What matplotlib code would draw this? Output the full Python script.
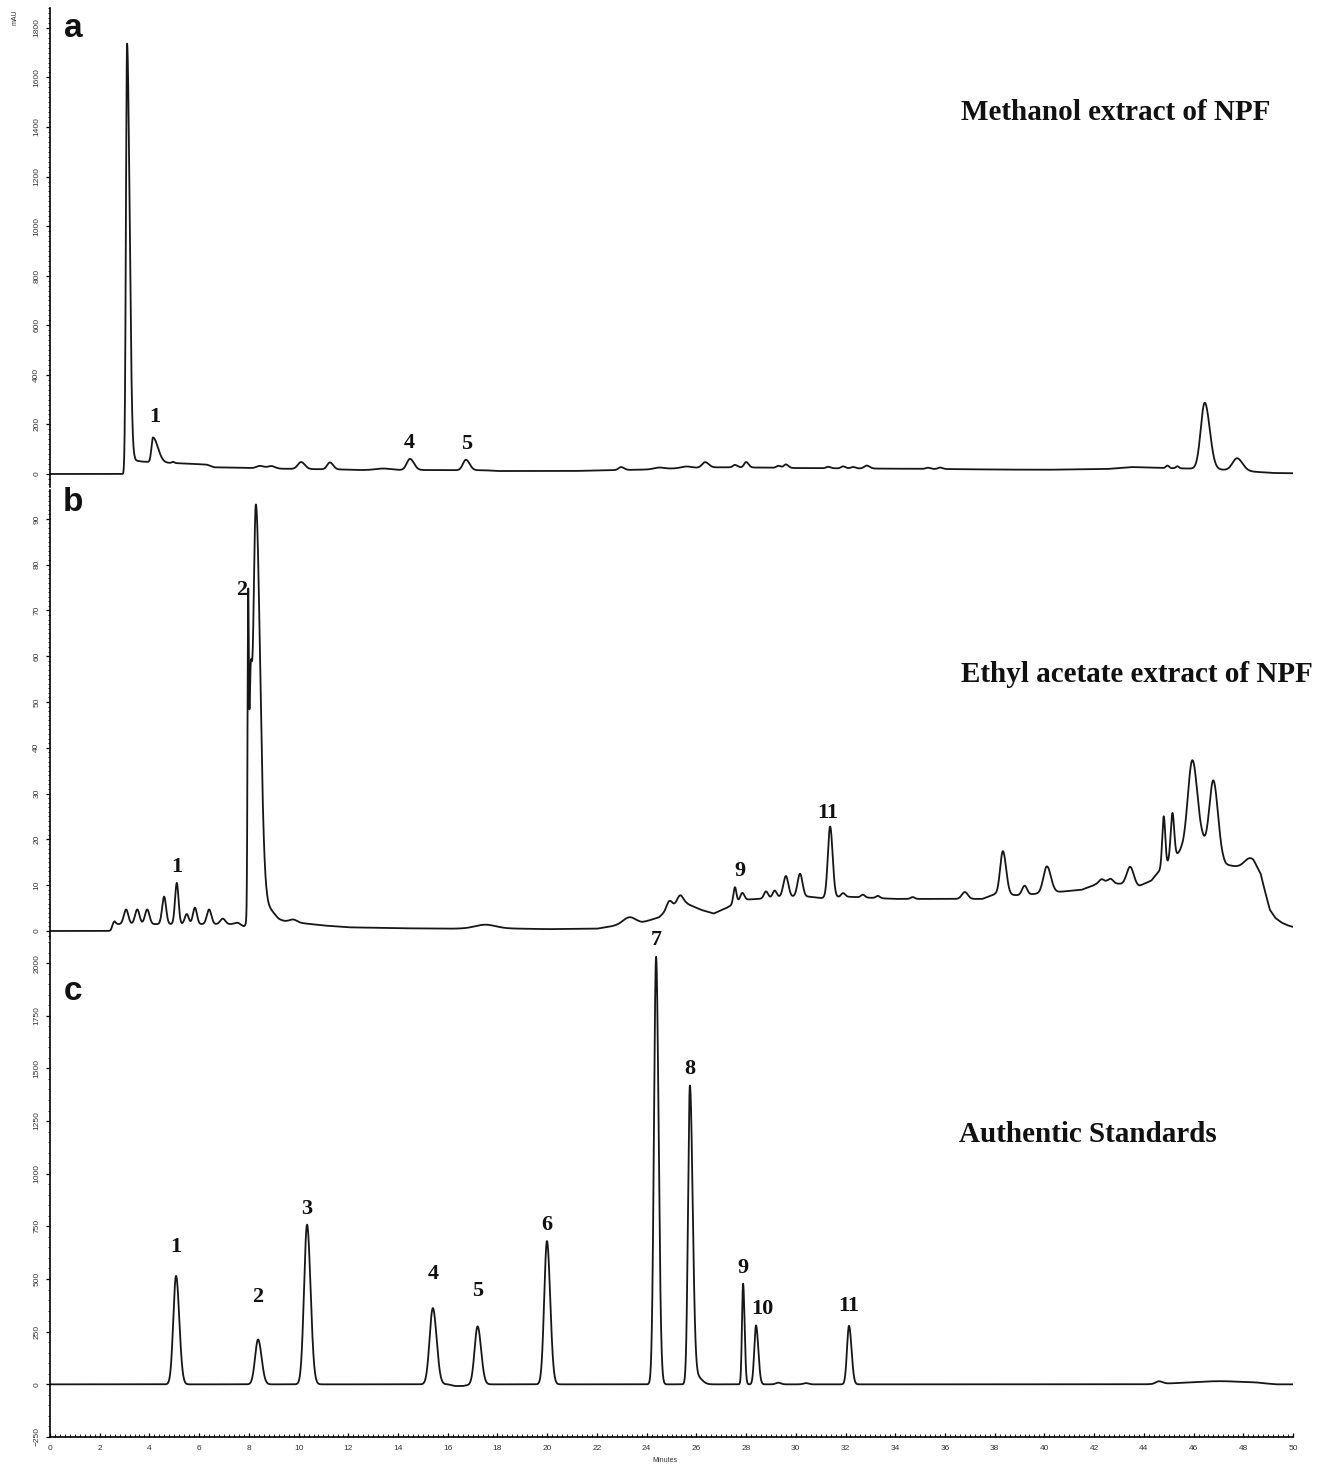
import numpy as np
import matplotlib
matplotlib.use("Agg")
import matplotlib.pyplot as plt
from matplotlib.ticker import MultipleLocator

# ---------------- data ----------------
# Panel a: Methanol extract of NPF  (mAU)
a_base_t = [0, 2.95, 3.0, 3.4, 3.7, 4.4, 5.0, 5.5, 6.3, 6.6, 7.6, 8.2, 9.5, 11.8, 12.5, 15, 17.5, 18,
            21, 24, 25.5, 27, 28.5, 30, 33, 36, 38, 40, 42.5, 43.5, 44.5, 45.8, 47.2, 48.3, 49.2, 50]
a_base_v = [0, 0, 10, 55, 50, 46, 44, 42, 38, 27, 25, 23, 21, 18, 16, 16, 15, 12,
            12, 18, 24, 27, 26, 24, 22, 20, 18, 17, 20, 28, 25, 22, 17, 10, 4, 3]
a_pk_t = [3.1, 4.14, 4.95, 8.45, 8.9, 10.1, 11.26, 13.4, 14.48, 16.73, 22.97, 24.5, 25.6, 26.35,
          27.55, 28.0, 29.3, 29.6, 31.3, 31.9, 32.3, 32.85, 35.3, 35.8, 44.95, 45.35, 46.45, 47.75]
a_pk_h = [1715, 100, 5, 10, 10, 28, 28, 6, 45, 42, 12, 6, 6, 22,
          10, 22, 8, 14, 6, 8, 6, 12, 5, 6, 10, 8, 268, 50]
a_pk_sl = [0.045, 0.06, 0.05, 0.15, 0.15, 0.13, 0.11, 0.3, 0.13, 0.12, 0.1, 0.2, 0.2, 0.12,
           0.08, 0.08, 0.08, 0.08, 0.08, 0.08, 0.08, 0.1, 0.08, 0.08, 0.06, 0.06, 0.16, 0.18]
a_pk_sr = [0.1, 0.2, 0.05, 0.15, 0.15, 0.15, 0.13, 0.3, 0.16, 0.15, 0.12, 0.2, 0.2, 0.15,
           0.1, 0.1, 0.1, 0.1, 0.1, 0.1, 0.1, 0.12, 0.1, 0.1, 0.06, 0.06, 0.2, 0.22]
a_lab = ["1", "4", "5"]
a_lab_t = [4.2, 14.45, 16.75]
a_lab_v = [230, 125, 121]

# Panel b: Ethyl acetate extract of NPF  (mAU)
b_base_t = [0, 2.45, 2.6, 7.6, 7.8, 8.7, 9.2, 10, 11, 12, 14, 16, 18, 20, 22, 22.8, 23.8,
            24.5, 25.0, 25.6, 26.2, 26.7, 27.2, 27.8, 28.5, 29.5, 30.5, 31, 32, 34, 36, 37.5,
            38.0, 39.0, 40.5, 41.5, 42, 43, 43.8, 44.3, 44.65, 45.5, 46.35, 47.3, 47.9, 48.4,
            48.7, 48.9, 49.07, 49.3, 49.55, 49.8, 50]
b_base_v = [0, 0, 1.5, 1.5, 1.0, 3.5, 2.2, 1.8, 1.2, 0.8, 0.6, 0.5, 0.6, 0.4, 0.5, 1.2, 1.8,
            3.0, 5.5, 6.0, 4.6, 3.8, 5.0, 6.8, 7.0, 7.5, 7.5, 7.2, 7.5, 7.0, 7.0, 7.0,
            8.0, 7.8, 8.5, 9.0, 10.0, 10.3, 9.8, 11.0, 13.3, 17.5, 19.0, 14.5, 13.8, 13.3,
            11.8, 8.0, 4.6, 2.8, 1.8, 1.2, 0.9]
b_pk_t = [2.55, 3.06, 3.51, 3.91, 4.59, 5.10, 5.50, 5.83, 6.40, 6.95, 7.51,
          7.97, 8.06, 8.28, 8.7, 9.78, 17.5, 23.3, 24.9, 25.35, 27.55, 27.85, 28.8, 29.15,
          29.6, 30.17, 31.38, 31.9, 32.7, 33.3, 34.7, 36.8, 38.33, 39.2, 40.1, 42.3, 42.65,
          43.45, 44.8, 45.15, 45.95, 46.8, 48.3]
b_pk_h = [0.8, 3.2, 3.2, 3.2, 6.0, 9.0, 2.2, 3.6, 3.2, 1.2, 0.3,
          57, 42, 90, 2.0, 0.6, 0.8, 1.5, 1.5, 2.0, 3.5, 1.5, 1.5, 1.5,
          4.5, 5.0, 15.5, 0.8, 0.6, 0.5, 0.4, 1.5, 9.5, 2.0, 5.8, 1.2, 1.2,
          4.0, 11, 10, 19, 16, 2.5]
b_pk_sl = [0.07, 0.09, 0.09, 0.09, 0.08, 0.07, 0.08, 0.08, 0.09, 0.1, 0.1,
           0.025, 0.06, 0.11, 0.3, 0.15, 0.4, 0.25, 0.1, 0.12, 0.06, 0.08, 0.08, 0.08,
           0.1, 0.1, 0.09, 0.08, 0.08, 0.08, 0.08, 0.12, 0.11, 0.1, 0.14, 0.12, 0.12,
           0.14, 0.06, 0.07, 0.18, 0.16, 0.25]
b_pk_sr = [0.07, 0.09, 0.09, 0.09, 0.08, 0.07, 0.08, 0.08, 0.09, 0.1, 0.1,
           0.025, 0.06, 0.17, 0.3, 0.15, 0.4, 0.25, 0.1, 0.12, 0.06, 0.08, 0.08, 0.08,
           0.1, 0.1, 0.1, 0.08, 0.08, 0.08, 0.08, 0.12, 0.13, 0.1, 0.16, 0.12, 0.12,
           0.14, 0.06, 0.07, 0.2, 0.18, 0.25]
b_lab = ["2", "1", "9", "11"]
b_lab_t = [7.72, 5.1, 27.75, 31.3]
b_lab_v = [74.5, 14.0, 13.0, 25.8]

# Panel c: Authentic Standards  (mAU)
c_base_t = [0, 16.0, 16.3, 16.6, 17.0, 44.0, 45.5, 48.5, 49.3, 50]
c_base_v = [0, 0, -8, -8, 0, 0, 6, 8, 0, 0]
c_pk_t = [5.07, 8.37, 10.34, 15.4, 17.2, 19.99, 24.38, 25.74, 26.0, 27.88, 28.4, 29.3, 30.4,
          32.14, 44.6, 47.0]
c_pk_h = [515, 213, 758, 362, 275, 680, 2030, 1410, 40, 478, 280, 8, 6, 278, 12, 8]
c_pk_sl = [0.11, 0.12, 0.12, 0.13, 0.12, 0.11, 0.085, 0.075, 0.15, 0.045, 0.07, 0.1, 0.1,
           0.08, 0.12, 0.8]
c_pk_sr = [0.13, 0.14, 0.14, 0.15, 0.14, 0.13, 0.1, 0.11, 0.2, 0.06, 0.09, 0.1, 0.1,
           0.1, 0.15, 0.8]
c_lab = ["1", "2", "3", "4", "5", "6", "7", "8", "9", "10", "11"]
c_lab_t = [5.07, 8.37, 10.34, 15.4, 17.2, 19.99, 24.38, 25.74, 27.88, 28.65, 32.14]
c_lab_v = [654, 417, 834, 526, 441, 758, 2109, 1498, 550, 360, 370]

titles = ["Methanol extract of NPF", "Ethyl acetate extract of NPF", "Authentic Standards"]
letters = ["a", "b", "c"]


def trace(t, bt, bv, pt, ph, psl, psr):
    y = np.interp(t, bt, bv)
    for c, h, sl, sr in zip(pt, ph, psl, psr):
        s = np.where(t < c, sl, sr)
        y = y + h * np.exp(-0.5 * ((t - c) / s) ** 2)
    return y


t = np.linspace(0, 50, 20001)

W, H = 1338, 1467
fig = plt.figure(figsize=(W / 100, H / 100), dpi=100)

def ax_rect(top, bottom, left=50, right=1293):
    return [left / W, 1 - bottom / H, (right - left) / W, (bottom - top) / H]

ax_a = fig.add_axes(ax_rect(8, 487))
ax_b = fig.add_axes(ax_rect(490, 940))
ax_c = fig.add_axes(ax_rect(942, 1437))
axes = [ax_a, ax_b, ax_c]

ya = trace(t, a_base_t, a_base_v, a_pk_t, a_pk_h, a_pk_sl, a_pk_sr)
yb = trace(t, b_base_t, b_base_v, b_pk_t, b_pk_h, b_pk_sl, b_pk_sr)
yc = trace(t, c_base_t, c_base_v, c_pk_t, c_pk_h, c_pk_sl, c_pk_sr)

ylims = [(-52.5, 1880), (-1.97, 96.3), (-250, 2100)]
majors = [200, 10, 250]
minors = [20, 1, 50]
data = [ya, yb, yc]
labs = [(a_lab, a_lab_t, a_lab_v), (b_lab, b_lab_t, b_lab_v), (c_lab, c_lab_t, c_lab_v)]
title_pos = [(0.857, 0.781), (0.8745, 0.591), (0.835, 0.612)]
letter_pos = [(0.0185, 0.958), (0.0185, 0.973), (0.0185, 0.899)]

lc = "#161616"
for i, ax in enumerate(axes):
    ax.plot(t, data[i], color=lc, lw=1.3)
    ax.set_xlim(0, 50)
    ax.set_ylim(*ylims[i])
    for s in ["top", "right"]:
        ax.spines[s].set_visible(False)
    ax.spines["left"].set_linewidth(1.2)
    ax.yaxis.set_major_locator(MultipleLocator(majors[i]))
    ax.yaxis.set_minor_locator(MultipleLocator(minors[i]))
    ax.tick_params(axis="y", which="major", direction="out", length=3, width=0.9,
                   labelsize=6, labelcolor="#333333", pad=4)
    ax.tick_params(axis="y", which="minor", direction="out", length=1.5, width=0.6)
    for lab in ax.get_yticklabels():
        lab.set_rotation(90)
        lab.set_va("center")
        lab.set_family("Liberation Sans")
    if i < 2:
        ax.spines["bottom"].set_visible(False)
        ax.set_xticks([])
    # peak labels
    for txt, lt, lv in zip(*labs[i]):
        ax.text(lt, lv, txt, ha="center", va="center", fontsize=16, fontweight="bold",
                family="Liberation Serif", color="#111111")
    ax.text(title_pos[i][0], title_pos[i][1], titles[i], transform=ax.transAxes,
            ha="center", va="center", fontsize=21, fontweight="bold",
            family="Liberation Serif", color="#111111")
    ax.text(letter_pos[i][0], letter_pos[i][1], letters[i], transform=ax.transAxes,
            ha="center", va="center", fontsize=24, fontweight="bold",
            family="Liberation Sans", color="#111111")
    ax.set_facecolor("none")

ax_c.spines["bottom"].set_linewidth(1.2)
ax_c.xaxis.set_major_locator(MultipleLocator(2))
ax_c.xaxis.set_minor_locator(MultipleLocator(0.2))
ax_c.tick_params(axis="x", which="major", direction="in", length=3, width=0.9,
                 labelsize=6, labelcolor="#333333", pad=6)
ax_c.tick_params(axis="x", which="minor", direction="in", length=2, width=0.6)
for lab in ax_c.get_xticklabels():
    lab.set_family("Liberation Sans")

fig.text(665 / W, 1 - 1461 / H, "Minutes", ha="center", va="center", fontsize=5,
         family="Liberation Sans", color="#333333")
fig.text(15 / W, 1 - 17 / H, "mAU", ha="center", va="center", fontsize=5, rotation=90,
         family="Liberation Sans", color="#333333")

fig.savefig("out.png", dpi=100, facecolor="white")
